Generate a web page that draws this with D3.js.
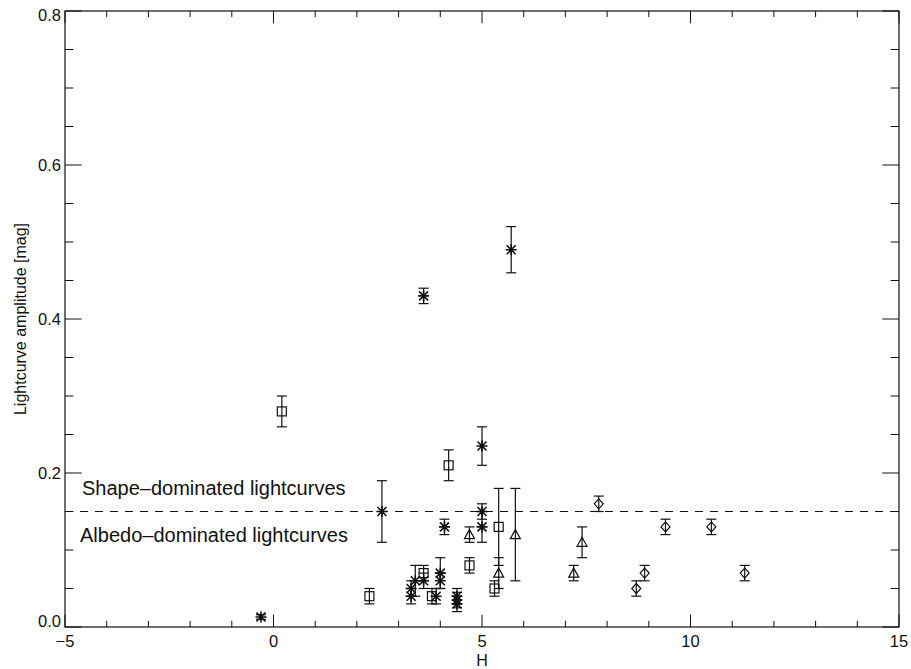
<!DOCTYPE html>
<html>
<head>
<meta charset="utf-8">
<script src="https://cdn.jsdelivr.net/npm/d3@7"></script>
<style>
  html, body { margin: 0; padding: 0; background: #fff; }
  svg { display: block; font-family: "Liberation Sans", Arial, Helvetica, sans-serif; }
</style>
</head>
<body>
<svg id="chart" width="911" height="669"></svg>
<script>
// Lightcurve amplitude vs absolute magnitude H, four object groups.
// Each row: [H, amplitude, error]
const groupStar = [
  [-0.3, 0.013, 0.003],
  [2.6, 0.15, 0.04],
  [3.3, 0.04, 0.01],
  [3.3, 0.05, 0.01],
  [3.4, 0.06, 0.02],
  [3.6, 0.06, 0.01],
  [3.6, 0.43, 0.01],
  [3.9, 0.04, 0.01],
  [4.0, 0.06, 0.01],
  [4.0, 0.07, 0.02],
  [4.1, 0.13, 0.01],
  [4.4, 0.03, 0.01],
  [4.4, 0.035, 0.01],
  [4.4, 0.04, 0.01],
  [5.0, 0.15, 0.01],
  [5.0, 0.13, 0.02],
  [5.0, 0.235, 0.025],
  [5.7, 0.49, 0.03]
];
const groupSquare = [
  [0.2, 0.28, 0.02],
  [2.3, 0.04, 0.01],
  [3.6, 0.07, 0.01],
  [3.8, 0.04, 0.01],
  [4.2, 0.21, 0.02],
  [4.7, 0.08, 0.01],
  [5.3, 0.05, 0.01],
  [5.4, 0.13, 0.05]
];
const groupTriangle = [
  [4.7, 0.12, 0.01],
  [5.4, 0.07, 0.02],
  [5.8, 0.12, 0.06],
  [7.2, 0.07, 0.01],
  [7.4, 0.11, 0.02]
];
const groupDiamond = [
  [7.8, 0.16, 0.01],
  [8.7, 0.05, 0.01],
  [8.9, 0.07, 0.01],
  [9.4, 0.13, 0.01],
  [10.5, 0.13, 0.01],
  [11.3, 0.07, 0.01]
];
const xMajorTicks = [-5, 0, 5, 10, 15];
const yMajorTicks = [0.0, 0.2, 0.4, 0.6, 0.8];
const xMinorTicks = d3.range(-5, 15.001, 1);
const yMinorTicks = d3.range(0, 0.8001, 0.05);
const divideLevel = 0.15;
const labelAbove = "Shape\u2013dominated lightcurves";
const labelBelow = "Albedo\u2013dominated lightcurves";
const xTitle = "H";
const yTitle = "Lightcurve amplitude [mag]";

const svg = d3.select("#chart");
const padL = 65, padR = 899, padT = 11, padB = 627;
const x = d3.scaleLinear().domain([-5, 15]).range([padL, padR]);
const y = d3.scaleLinear().domain([0, 0.8]).range([padB, padT]);
const ink = "#111";

// Frame
svg.append("rect")
  .attr("x", padL).attr("y", padT)
  .attr("width", padR - padL).attr("height", padB - padT)
  .attr("fill", "none").attr("stroke", ink).attr("stroke-width", 1.2);

const isMajor = (v, step) => Math.abs(v / step - Math.round(v / step)) < 1e-6;

// X ticks on bottom and top
const xTickLen = 12.3;
xMinorTicks.forEach(v => {
  const len = isMajor(v, 5) ? xTickLen : xTickLen / 2;
  svg.append("line").attr("x1", x(v)).attr("x2", x(v))
    .attr("y1", padB).attr("y2", padB - len)
    .attr("stroke", ink).attr("stroke-width", 1);
  svg.append("line").attr("x1", x(v)).attr("x2", x(v))
    .attr("y1", padT).attr("y2", padT + len)
    .attr("stroke", ink).attr("stroke-width", 1);
});
// Y ticks on left and right
const yTickLen = 16.7;
yMinorTicks.forEach(v => {
  const len = isMajor(v, 0.2) ? yTickLen : yTickLen / 2;
  svg.append("line").attr("x1", padL).attr("x2", padL + len)
    .attr("y1", y(v)).attr("y2", y(v))
    .attr("stroke", ink).attr("stroke-width", 1);
  svg.append("line").attr("x1", padR).attr("x2", padR - len)
    .attr("y1", y(v)).attr("y2", y(v))
    .attr("stroke", ink).attr("stroke-width", 1);
});

// Tick labels
const tickFont = 16.5;
svg.selectAll(".xl").data(xMajorTicks).enter().append("text")
  .attr("x", d => x(d)).attr("y", padB + 20)
  .attr("text-anchor", "middle").attr("font-size", tickFont).attr("fill", ink)
  .text(d => d < 0 ? "\u2212" + Math.abs(d) : String(d));
svg.selectAll(".yl").data(yMajorTicks).enter().append("text")
  .attr("x", padL - 4)
  .attr("y", d => d === 0 ? y(d) : (d >= 0.8 ? y(d) + 10 : y(d) + 6))
  .attr("text-anchor", "end").attr("font-size", tickFont).attr("fill", ink)
  .text(d => d3.format(".1f")(d));

// Axis titles
svg.append("text").attr("x", (padL + padR) / 2).attr("y", 666)
  .attr("text-anchor", "middle").attr("font-size", 16).attr("fill", ink).text(xTitle);
svg.append("text")
  .attr("transform", `translate(25.5, ${(padT + padB) / 2}) rotate(-90)`)
  .attr("text-anchor", "middle").attr("font-size", 16).attr("fill", ink).text(yTitle);

// Dividing level
svg.append("line")
  .attr("x1", padL).attr("x2", padR)
  .attr("y1", y(divideLevel)).attr("y2", y(divideLevel))
  .attr("stroke", ink).attr("stroke-width", 1).attr("stroke-dasharray", "8,7");

svg.append("text").attr("x", 82).attr("y", 495)
  .attr("font-size", 20).attr("fill", ink).text(labelAbove);
svg.append("text").attr("x", 80).attr("y", 542)
  .attr("font-size", 20).attr("fill", ink).text(labelBelow);

// Error bars with caps
const capHalf = 5;
function errorBars(data) {
  const g = svg.append("g").attr("stroke", ink).attr("stroke-width", 1.2).attr("fill", "none");
  data.forEach(([h, a, e]) => {
    const cx = x(h);
    g.append("line").attr("x1", cx).attr("x2", cx).attr("y1", y(a - e)).attr("y2", y(a + e));
    g.append("line").attr("x1", cx - capHalf).attr("x2", cx + capHalf).attr("y1", y(a + e)).attr("y2", y(a + e));
    g.append("line").attr("x1", cx - capHalf).attr("x2", cx + capHalf).attr("y1", y(a - e)).attr("y2", y(a - e));
  });
}
[groupStar, groupSquare, groupTriangle, groupDiamond].forEach(errorBars);

// Symbols
const sym = svg.append("g").attr("stroke", ink).attr("fill", "none");
groupStar.forEach(([h, a]) => {
  const cx = x(h), cy = y(a), r = 5.5, d = 4.5;
  sym.append("path").attr("stroke-width", 1.6)
    .attr("d", `M${cx},${cy - r}V${cy + r}M${cx - r},${cy}H${cx + r}` +
               `M${cx - d},${cy - d}L${cx + d},${cy + d}M${cx - d},${cy + d}L${cx + d},${cy - d}`);
});
groupSquare.forEach(([h, a]) => {
  const cx = x(h), cy = y(a), s = 4.5;
  sym.append("rect").attr("stroke-width", 1.2)
    .attr("x", cx - s).attr("y", cy - s).attr("width", 2 * s).attr("height", 2 * s);
});
groupTriangle.forEach(([h, a]) => {
  const cx = x(h), cy = y(a), s = 5;
  sym.append("path").attr("stroke-width", 1.2)
    .attr("d", `M${cx},${cy - s}L${cx + s},${cy + s * 0.8}L${cx - s},${cy + s * 0.8}Z`);
});
groupDiamond.forEach(([h, a]) => {
  const cx = x(h), cy = y(a), s = 5;
  sym.append("path").attr("stroke-width", 1.2)
    .attr("d", `M${cx},${cy - s}L${cx + s * 0.9},${cy}L${cx},${cy + s}L${cx - s * 0.9},${cy}Z`);
});
</script>
</body>
</html>
